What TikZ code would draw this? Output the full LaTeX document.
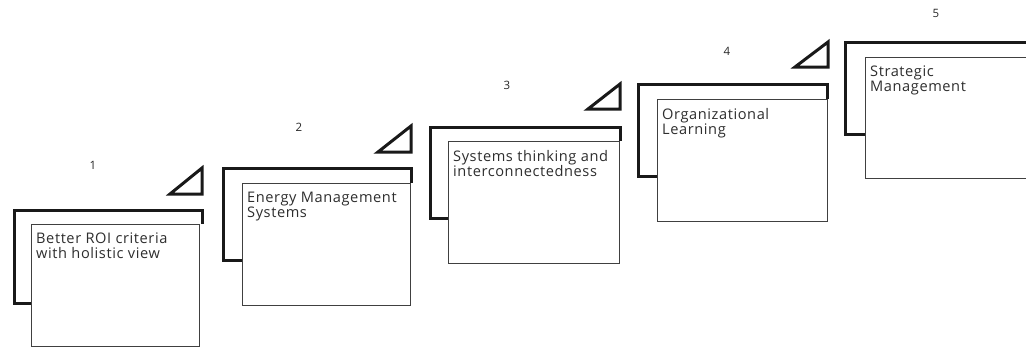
\documentclass[tikz,border=0pt]{standalone}
\usepackage{fontspec}
\setmainfont{Open Sans}[LetterSpace=4]
\begin{document}
\begin{tikzpicture}[x=1pt,y=-1pt,
  backframe/.style={line width=3pt, draw=black!90, line join=miter},
  frontbox/.style={draw=black!75, line width=1.1pt, fill=white, inner sep=0pt, anchor=north west},
  boxtext/.style={anchor=north west, inner sep=0pt, align=left, text=black!82,
    font=\fontsize{14.6}{15}\selectfont},
  numlabel/.style={font=\fontsize{11.5}{12}\selectfont, text=black!85},
  wedge/.style={line width=3pt, draw=black!90, line join=miter}]
\clip (0,0) rectangle (1026,348);
\fill[white] (0,0) rectangle (1026,348);
\foreach \i/\tl/\tt/\tr/\tb/\fl/\ft/\fr/\fb/\lx/\ly/\txt in {
  1/14/210/202/303/31/224/199/346/93/165/{Better ROI criteria\\with holistic view},
  2/223/168/411/260/242/183/410/305/299/127/{Energy Management\\Systems},
  3/430/127/620/218/448/141/619/263/507/85/{Systems thinking and\\interconnectedness},
  4/638/84/827/176/657/99/827/221/727/51/{Organizational\\Learning},
  5/845/42/1033/134/865/57/1033/178/936/13/{Strategic\\Management}}{
  \coordinate (bl\i) at (\fl,\tb);
  \coordinate (bc\i) at (\tl,\tb);
  \coordinate (tc\i) at (\tl,\tt);
  \coordinate (tr\i) at (\tr,\tt);
  \coordinate (br\i) at (\tr,\ft);
  \draw[backframe] (bl\i) -- (bc\i) -- (tc\i) -- (tr\i) -- (br\i);
  \node[frontbox, minimum width=\fr-\fl, minimum height=\fb-\ft] (f\i) at (\fl,\ft) {};
  \node[boxtext] (t\i) at ([xshift=5pt,yshift=-9pt]f\i.north west) {\txt};
  \node[numlabel] (n\i) at (\lx,\ly) {\i};
}
\foreach \i/\a/\b/\c/\d in {1/170/194/202/168, 2/378/152/411/126, 3/588/109/620/84, 4/795/67/828/42}{
  \coordinate (wa\i) at (\a,\b);
  \coordinate (wb\i) at (\c,\b);
  \coordinate (wc\i) at (\c,\d);
  \draw[wedge] (wa\i) -- (wb\i) -- (wc\i) -- cycle;
}
\end{tikzpicture}
\end{document}
